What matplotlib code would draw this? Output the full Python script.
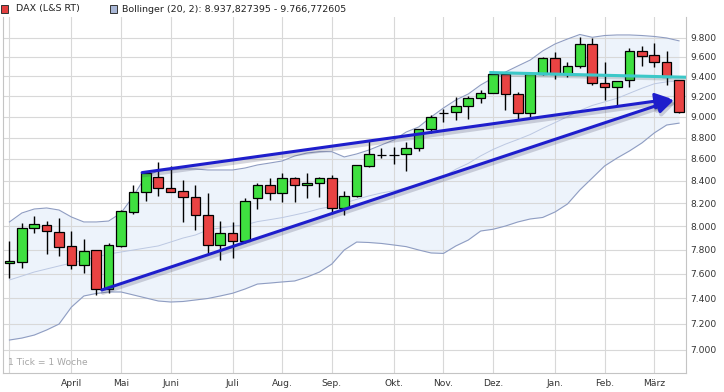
import matplotlib
matplotlib.use("Agg")
import matplotlib.pyplot as plt
import matplotlib.patheffects as pe
from matplotlib.patches import Rectangle
from matplotlib.ticker import FixedLocator, NullLocator
import numpy as np

# weekly candles, week of 2013-02-25 .. week of 2014-03-10
opens = [7684, 7698, 7980, 8006, 7946, 7827, 7668, 7793, 7473, 7832,
         8124, 8297, 8432, 8333, 8306, 8252, 8092, 7835, 7938, 7871,
         8243, 8360, 8288, 8423, 8360, 8378, 8423, 8159, 8267, 8537,
         8636, 8636, 8643, 8699, 8879, 9039, 9043, 9108, 9180, 9230,
         9424, 9220, 9033, 9424, 9585, 9424, 9507, 9731, 9331, 9292,
         9364, 9664, 9619, 9544, 9367]
highs = [7870, 8023, 8086, 8043, 8071, 7957, 7888, 7793, 7852, 8139,
         8363, 8474, 8569, 8538, 8405, 8362, 8287, 8043, 8034, 8243,
         8378, 8423, 8468, 8438, 8468, 8438, 8454, 8309, 8544, 8768,
         8704, 8714, 8761, 8879, 9016, 9072, 9197, 9203, 9262, 9431,
         9431, 9246, 9434, 9601, 9653, 9548, 9804, 9794, 9543, 9357,
         9689, 9716, 9741, 9660, 9367]
lows = [7566, 7644, 7938, 7760, 7748, 7635, 7607, 7427, 7441, 7823,
        8101, 8219, 8267, 8297, 8038, 7966, 7768, 7713, 7727, 7852,
        8145, 8227, 8213, 8213, 8243, 8252, 8101, 8095, 8252, 8522,
        8606, 8550, 8492, 8678, 8848, 8952, 8968, 8978, 9131, 9230,
        9066, 8975, 8994, 9414, 9371, 9397, 9481, 9314, 9163, 9104,
        9292, 9507, 9497, 9314, 9034]
closes = [7701, 7980, 8015, 7957, 7824, 7668, 7785, 7473, 7835, 8130,
          8297, 8474, 8333, 8302, 8252, 8092, 7835, 7938, 7871, 8219,
          8360, 8288, 8423, 8360, 8378, 8423, 8159, 8267, 8541, 8643,
          8636, 8636, 8699, 8879, 8994, 9039, 9108, 9180, 9230, 9424,
          9223, 9033, 9424, 9585, 9424, 9507, 9731, 9331, 9292, 9357,
          9664, 9612, 9544, 9397, 9045]

# Bollinger (20, 2)
boll_upper = [8035, 8113, 8148, 8157, 8139, 8078, 8035, 8035, 8043, 8113,
              8263, 8443, 8489, 8498, 8507, 8507, 8498, 8498, 8498, 8516,
              8544, 8562, 8581, 8627, 8655, 8667, 8667, 8618, 8646, 8683,
              8730, 8777, 8853, 8901, 8997, 9085, 9164, 9223, 9313, 9384,
              9444, 9506, 9567, 9661, 9734, 9786, 9834, 9804, 9823, 9829,
              9829, 9823, 9813, 9797, 9766.77]
boll_mid = [7548, 7580, 7613, 7638, 7663, 7687, 7712, 7737, 7762, 7779,
            7796, 7813, 7830, 7863, 7897, 7923, 7966, 7983, 8000, 8010,
            8038, 8055, 8073, 8096, 8120, 8150, 8170, 8200, 8233, 8264,
            8290, 8310, 8335, 8365, 8405, 8435, 8505, 8558, 8628, 8688,
            8738, 8782, 8829, 8888, 8943, 9000, 9060, 9110, 9145, 9180,
            9230, 9280, 9325, 9345, 9352.3]
boll_lower = [7075, 7090, 7113, 7152, 7198, 7331, 7419, 7439, 7451, 7451,
              7427, 7403, 7379, 7371, 7375, 7387, 7399, 7419, 7441, 7475,
              7515, 7523, 7532, 7540, 7572, 7613, 7679, 7796, 7863, 7859,
              7851, 7838, 7824, 7796, 7771, 7767, 7830, 7880, 7957, 7972,
              8000, 8035, 8061, 8074, 8122, 8192, 8317, 8425, 8535, 8608,
              8674, 8749, 8844, 8920, 8937.83]

month_labels = ["", "April", "Mai", "Juni", "Juli", "Aug.", "Sep.", "Okt.",
                "Nov.", "Dez.", "Jan.", "Feb.", "März"]
month_weeks = [0, 5, 9, 13, 18, 22, 26, 31, 35, 39, 44, 48, 52]
y_ticks = [7000, 7200, 7400, 7600, 7800, 8000, 8200, 8400, 8600, 8800,
           9000, 9200, 9400, 9600, 9800]

# drawn trend lines (week index, price)
trend_top = ((10.7, 8474), (53.4, 9175))
trend_bottom = ((7.45, 7467), (53.6, 9166))
resistance = ((38.7, 9439), (54.6, 9391))

plt.rcParams['font.family'] = ['DejaVu Sans']
fig = plt.figure(figsize=(7.24, 3.92), dpi=100)
ax = fig.add_axes([3 / 724, 19 / 392, 683 / 724, 356 / 392])
ax.set_yscale('log')
ax.set_ylim(6828, 10021)
ax.set_xlim(-0.52, 54.56)

x = np.arange(len(closes))

# bollinger band
ax.fill_between(x, boll_lower, boll_upper, color='#E6EEFA', alpha=0.7,
                linewidth=0, zorder=0.3)
ax.plot(x, boll_upper, color='#8F9DC2', lw=0.8, zorder=0.6)
ax.plot(x, boll_lower, color='#8F9DC2', lw=0.8, zorder=0.6)
ax.plot(x, boll_mid, color='#BCC8E2', lw=0.7, zorder=0.6)

# candles
o = np.array(opens)
c = np.array(closes)
up = c >= o
colors = np.where(up, '#3FE040', '#E94343')
ax.vlines(x, lows, highs, color='black', lw=1.0, zorder=3)
ax.bar(x, np.abs(c - o), bottom=np.minimum(o, c), width=0.78, color=colors,
       edgecolor='black', linewidth=0.9, zorder=4)

shadow = [pe.SimpleLineShadow(offset=(0.8, -2.0), shadow_color='#404060',
                              alpha=0.22, linewidth=3), pe.Normal()]

for (x0, y0), (x1, y1) in (trend_top, trend_bottom):
    ann = ax.annotate('', xy=(x1, y1), xytext=(x0, y0),
                      arrowprops=dict(arrowstyle='-|>,head_length=0.7,head_width=0.35',
                                      color='#1E1ECC', lw=2.2, shrinkA=0, shrinkB=0,
                                      mutation_scale=14),
                      zorder=6)
    ann.arrow_patch.set_path_effects(shadow)

ax.plot([resistance[0][0], resistance[1][0]], [resistance[0][1], resistance[1][1]],
        color='#3CC8C8', lw=2.2, zorder=5, solid_capstyle='butt',
        path_effects=[pe.SimpleLineShadow(offset=(0.8, -1.5), shadow_color='#305050',
                                          alpha=0.2, linewidth=2.5), pe.Normal()])

# axes styling
ax.yaxis.set_major_locator(FixedLocator(y_ticks))
ax.yaxis.set_minor_locator(NullLocator())
ax.set_yticklabels([f"{v:,}".replace(",", ".") for v in y_ticks])
ax.yaxis.tick_right()
ax.set_xticks(month_weeks)
ax.set_xticklabels(month_labels)
ax.tick_params(axis='both', length=0, labelsize=6.6, colors='#333333')
ax.tick_params(axis='y', pad=3)
ax.tick_params(axis='x', pad=4)
ax.set_axisbelow(True)
ax.grid(True, color='#D8D8D8', lw=0.8)
for side in ('left', 'right', 'bottom'):
    ax.spines[side].set_color('#C4C4C4')
    ax.spines[side].set_linewidth(0.8)
ax.spines['top'].set_visible(False)

ax.text(0.007, 0.018, "1 Tick = 1 Woche", transform=ax.transAxes,
        fontsize=6.6, color='#A6A6A6', ha='left', va='bottom')

# legend strip on top
fig.patches.append(Rectangle((1 / 724, 1 - 12.5 / 392), 7 / 724, 7 / 392,
                             transform=fig.transFigure, facecolor='#E34040',
                             edgecolor='#333333', lw=0.7))
fig.text(16 / 724, 1 - 9 / 392, "DAX (L&S RT)", fontsize=6.8, color='#222222',
         va='center', ha='left')
fig.patches.append(Rectangle((110 / 724, 1 - 12.5 / 392), 7 / 724, 7 / 392,
                             transform=fig.transFigure, facecolor='#A9B7D6',
                             edgecolor='#333333', lw=0.7))
fig.text(122 / 724, 1 - 9 / 392, "Bollinger (20, 2): 8.937,827395 - 9.766,772605",
         fontsize=6.8, color='#222222', va='center', ha='left')

fig.savefig("out.png", dpi=100)
